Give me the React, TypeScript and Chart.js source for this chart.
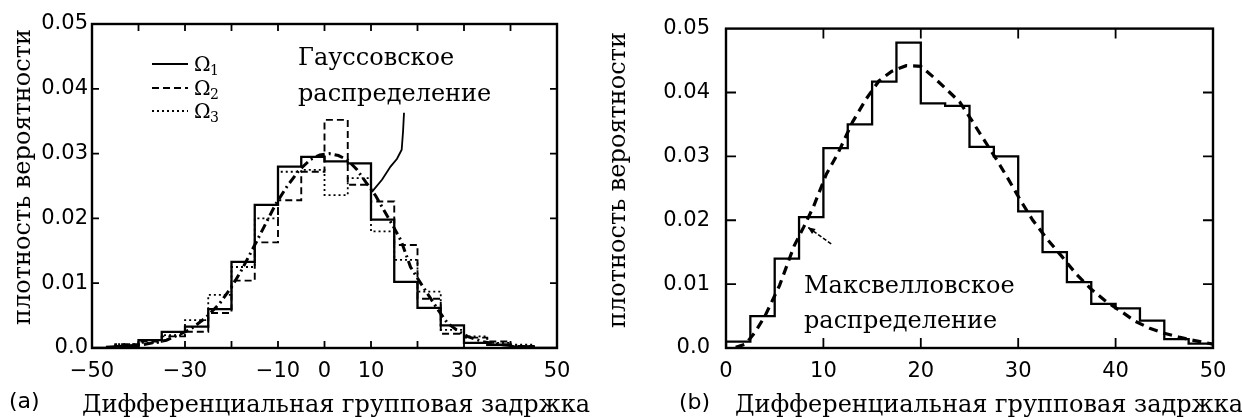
import React, { useEffect, useRef } from 'react';
import { Chart, registerables } from 'chart.js';

Chart.register(...registerables);

// ---------- Panel (a): DGD histograms for three bands, Gaussian fit ----------
const binEdgesA = [-50, -45, -40, -35, -30, -25, -20, -15, -10, -5, 0, 5, 10, 15, 20, 25, 30, 35, 40, 45, 50];
const omega1 = [0, 0.0003, 0.0012, 0.0025, 0.0033, 0.006, 0.0133, 0.0221, 0.028, 0.0295, 0.0288, 0.0285, 0.0198, 0.0102, 0.0062, 0.0035, 0.0008, 0.0005, 0.0002, 0];
const omega2 = [0, 0.0006, 0.001, 0.0018, 0.0025, 0.0054, 0.0104, 0.0163, 0.0228, 0.0272, 0.0352, 0.0252, 0.0226, 0.0159, 0.0076, 0.0022, 0.0016, 0.001, 0.0003, 0];
const omega3 = [0, 0.0006, 0.0008, 0.002, 0.0043, 0.0082, 0.0125, 0.02, 0.0272, 0.0275, 0.0236, 0.0262, 0.018, 0.0136, 0.0087, 0.0028, 0.0018, 0.0008, 0.0005, 0];
const gaussX = [-47, -43, -39, -34, -29, -25.5, -22.5, -20, -18, -15.5, -13, -10.5, -8, -5.5, -3, -1, 1, 3, 5, 7, 9, 11, 13, 15, 16.5, 18.5, 20.5, 22.5, 24.5, 26.5, 29, 31, 34, 37, 41, 45];
const gaussY = [0.0001, 0.0003, 0.0005, 0.0012, 0.0028, 0.0047, 0.0069, 0.0094, 0.0118, 0.0152, 0.0187, 0.0222, 0.025, 0.0274, 0.0291, 0.0298, 0.03, 0.0297, 0.029, 0.0275, 0.0255, 0.0235, 0.021, 0.0185, 0.0165, 0.0125, 0.0102, 0.008, 0.0058, 0.0038, 0.0025, 0.0017, 0.001, 0.0006, 0.0003, 0.0001];
const xLabelsA = [-50, -30, -10, 0, 10, 30, 50];
const legendLabels = ['Ω', 'Ω', 'Ω'];
const legendSubs = ['1', '2', '3'];
const gaussText = ['Гауссовское', 'распределение'];
// pointer from the label to the Gaussian curve (data coordinates)
const gaussPointerX = [17.1, 16.9, 16.6, 15.6, 14.2, 12.4, 10.2];
const gaussPointerY = [0.0363, 0.0335, 0.0306, 0.0292, 0.028, 0.026, 0.0241];

// ---------- Panel (b): DGD histogram, Maxwellian fit ----------
const binEdgesB = [0, 2.5, 5, 7.5, 10, 12.5, 15, 17.5, 20, 22.5, 25, 27.5, 30, 32.5, 35, 37.5, 40, 42.5, 45, 47.5, 50];
const histB = [0.001, 0.005, 0.014, 0.0205, 0.0313, 0.035, 0.0417, 0.0478, 0.0383, 0.0379, 0.0315, 0.03, 0.0214, 0.015, 0.0103, 0.0069, 0.0062, 0.0043, 0.0014, 0.0007];
const maxwellX = [1, 2, 3, 4, 5.5, 7, 8, 9, 10.3, 11.5, 13, 14.4, 15.7, 17, 18.5, 20, 21.3, 22.5, 24, 25.2, 26.4, 27.7, 29, 30.2, 31.5, 33, 34.5, 36, 37.5, 39, 40.5, 42, 43.5, 45, 46.5, 48, 50];
const maxwellY = [0.0001, 0.0006, 0.0025, 0.005, 0.0098, 0.016, 0.019, 0.0222, 0.0272, 0.0305, 0.0354, 0.039, 0.0418, 0.0433, 0.0442, 0.0441, 0.0424, 0.0407, 0.0385, 0.0357, 0.0328, 0.0297, 0.0264, 0.0232, 0.02, 0.017, 0.0143, 0.0115, 0.0092, 0.0073, 0.0058, 0.0042, 0.0031, 0.0023, 0.0017, 0.0012, 0.0006];
const xLabelsB = [0, 10, 20, 30, 40, 50];
const maxwellText = ['Максвелловское', 'распределение'];
const maxwellArrowX = [10.8, 8.4];
const maxwellArrowY = [0.0163, 0.0189];

const yLabelText = 'плотность вероятности';
const xTitleText = 'Дифференциальная групповая задржка';

const SERIF = '"DejaVu Serif", serif';
const SANS = '"DejaVu Sans", sans-serif';

function histPoints(edges: number[], vals: number[]) {
  const pts = [{ x: edges[0], y: 0 }];
  vals.forEach((v, i) => pts.push({ x: edges[i], y: v }));
  pts.push({ x: edges[edges.length - 1], y: 0 });
  return pts;
}
function curvePoints(xs: number[], ys: number[]) {
  return xs.map((x, i) => ({ x, y: ys[i] }));
}
function fmtX(v: number) {
  return v < 0 ? '−' + Math.abs(v) : String(v);
}
function fmtY(v: number) {
  return Math.abs(v) < 1e-9 ? '0.0' : v.toFixed(2);
}

function framePlugin(tickLen: number) {
  return {
    id: 'frameTicks',
    afterDatasetsDraw(chart: any) {
      const { ctx, chartArea } = chart;
      const { left, right, top, bottom } = chartArea;
      const xs = chart.scales.x;
      const ys = chart.scales.y;
      ctx.save();
      ctx.strokeStyle = '#000';
      ctx.lineWidth = 2.4;
      ctx.setLineDash([]);
      ctx.strokeRect(left, top, right - left, bottom - top);
      ctx.lineWidth = 1.8;
      ctx.beginPath();
      xs.ticks.forEach((t: any) => {
        const p = xs.getPixelForValue(t.value);
        if (p <= left + 1 || p >= right - 1) return;
        ctx.moveTo(p, bottom);
        ctx.lineTo(p, bottom - tickLen);
        ctx.moveTo(p, top);
        ctx.lineTo(p, top + tickLen);
      });
      ys.ticks.forEach((t: any) => {
        const p = ys.getPixelForValue(t.value);
        if (p <= top + 1 || p >= bottom - 1) return;
        ctx.moveTo(left, p);
        ctx.lineTo(left + tickLen, p);
        ctx.moveTo(right, p);
        ctx.lineTo(right - tickLen, p);
      });
      ctx.stroke();
      ctx.restore();
    },
  };
}

function baseOptions(opts: {
  xmin: number; xmax: number; labels: number[]; yWidth: number; yPad: number;
  padTop: number; padRight: number;
}) {
  return {
    animation: false as const,
    responsive: false,
    events: [],
    layout: { padding: { left: 0, top: opts.padTop, right: opts.padRight, bottom: 0 } },
    plugins: { legend: { display: false }, tooltip: { enabled: false }, title: { display: false } },
    elements: { point: { radius: 0 }, line: { tension: 0 } },
    scales: {
      x: {
        type: 'linear' as const,
        min: opts.xmin,
        max: opts.xmax,
        grid: { display: false, drawTicks: false },
        border: { display: false },
        afterFit: (s: any) => { s.height = 70; },
        ticks: {
          stepSize: 10,
          autoSkip: false,
          maxRotation: 0,
          padding: 11,
          color: '#000',
          font: { family: SANS, size: 21 },
          callback: (v: any) => (opts.labels.includes(Number(v)) ? fmtX(Number(v)) : ''),
        },
      },
      y: {
        type: 'linear' as const,
        min: 0,
        max: 0.05,
        grid: { display: false, drawTicks: false },
        border: { display: false },
        afterFit: (s: any) => { s.width = opts.yWidth; },
        ticks: {
          stepSize: 0.01,
          padding: opts.yPad,
          color: '#000',
          font: { family: SANS, size: 21 },
          callback: (v: any) => fmtY(Number(v)),
        },
      },
    },
  };
}

function text(ctx: any, s: string, x: number, y: number, font: string, align = 'left') {
  ctx.font = font;
  ctx.textAlign = align;
  ctx.textBaseline = 'alphabetic';
  ctx.fillStyle = '#000';
  ctx.fillText(s, x, y);
}

const annotationsA = {
  id: 'annotA',
  afterDraw(chart: any) {
    const { ctx } = chart;
    const xs = chart.scales.x;
    const ys = chart.scales.y;
    ctx.save();
    // y title
    ctx.save();
    ctx.translate(22, 177);
    ctx.rotate(-Math.PI / 2);
    text(ctx, yLabelText, 0, 8, `24px ${SERIF}`, 'center');
    ctx.restore();
    // x title and panel tag
    text(ctx, xTitleText, 82, 412, `24px ${SERIF}`);
    text(ctx, '(a)', 9, 408, `22px ${SANS}`);
    // legend
    const styles = [[], [7, 4], [2, 3]];
    const ly = [64, 88, 111];
    ly.forEach((yy, i) => {
      ctx.beginPath();
      ctx.setLineDash(styles[i]);
      ctx.lineWidth = i === 0 ? 2.2 : 1.8;
      ctx.strokeStyle = '#000';
      ctx.moveTo(152, yy);
      ctx.lineTo(188, yy);
      ctx.stroke();
      ctx.setLineDash([]);
      text(ctx, legendLabels[i], 194, yy + 7, `20px ${SERIF}`);
      text(ctx, legendSubs[i], 210, yy + 11, `14px ${SERIF}`);
    });
    // Gaussian label
    text(ctx, gaussText[0], 298, 65, `24px ${SERIF}`);
    text(ctx, gaussText[1], 298, 101, `24px ${SERIF}`);
    ctx.beginPath();
    ctx.setLineDash([]);
    ctx.lineWidth = 1.8;
    gaussPointerX.forEach((gx, i) => {
      const px = xs.getPixelForValue(gx);
      const py = ys.getPixelForValue(gaussPointerY[i]);
      if (i === 0) ctx.moveTo(px, py); else ctx.lineTo(px, py);
    });
    ctx.stroke();
    ctx.restore();
  },
};

const annotationsB = {
  id: 'annotB',
  afterDraw(chart: any) {
    const { ctx } = chart;
    const xs = chart.scales.x;
    const ys = chart.scales.y;
    const ox = 590;
    ctx.save();
    ctx.save();
    ctx.translate(617 - ox, 180);
    ctx.rotate(-Math.PI / 2);
    text(ctx, yLabelText, 0, 8, `24px ${SERIF}`, 'center');
    ctx.restore();
    text(ctx, xTitleText, 735 - ox, 412, `24px ${SERIF}`);
    text(ctx, '(b)', 679 - ox, 409, `22px ${SANS}`);
    text(ctx, maxwellText[0], 804 - ox, 293, `24px ${SERIF}`);
    text(ctx, maxwellText[1], 804 - ox, 328, `24px ${SERIF}`);
    // arrow
    const x0 = xs.getPixelForValue(maxwellArrowX[0]);
    const y0 = ys.getPixelForValue(maxwellArrowY[0]);
    const x1 = xs.getPixelForValue(maxwellArrowX[1]);
    const y1 = ys.getPixelForValue(maxwellArrowY[1]);
    ctx.strokeStyle = '#000';
    ctx.fillStyle = '#000';
    ctx.lineWidth = 1.6;
    ctx.setLineDash([4, 2]);
    ctx.beginPath();
    ctx.moveTo(x0, y0);
    ctx.lineTo(x1, y1);
    ctx.stroke();
    ctx.setLineDash([]);
    const ang = Math.atan2(y1 - y0, x1 - x0);
    const hl = 8;
    ctx.beginPath();
    ctx.moveTo(x1, y1);
    ctx.lineTo(x1 - hl * Math.cos(ang - 0.4), y1 - hl * Math.sin(ang - 0.4));
    ctx.lineTo(x1 - hl * Math.cos(ang + 0.4), y1 - hl * Math.sin(ang + 0.4));
    ctx.closePath();
    ctx.fill();
    ctx.restore();
  },
};

export default function App() {
  const refA = useRef<HTMLCanvasElement>(null);
  const refB = useRef<HTMLCanvasElement>(null);

  useEffect(() => {
    const chartA = new Chart(refA.current as HTMLCanvasElement, {
      type: 'line',
      data: {
        datasets: [
          { data: histPoints(binEdgesA, omega3), borderColor: '#000', borderWidth: 1.8, borderDash: [2, 3], stepped: true, fill: false },
          { data: histPoints(binEdgesA, omega2), borderColor: '#000', borderWidth: 1.9, borderDash: [7, 4], stepped: true, fill: false },
          { data: histPoints(binEdgesA, omega1), borderColor: '#000', borderWidth: 2.3, stepped: true, fill: false },
          { data: curvePoints(gaussX, gaussY), borderColor: '#000', borderWidth: 3, borderDash: [9, 4, 2, 4], fill: false },
        ],
      },
      options: baseOptions({ xmin: -50, xmax: 50, labels: xLabelsA, yWidth: 92, yPad: 4, padTop: 24, padRight: 33 }) as any,
      plugins: [framePlugin(7), annotationsA],
    });
    const chartB = new Chart(refB.current as HTMLCanvasElement, {
      type: 'line',
      data: {
        datasets: [
          { data: histPoints(binEdgesB, histB), borderColor: '#000', borderWidth: 2.3, stepped: true, fill: false },
          { data: curvePoints(maxwellX, maxwellY), borderColor: '#000', borderWidth: 3.2, borderDash: [9, 6], fill: false },
        ],
      },
      options: baseOptions({ xmin: 0, xmax: 50, labels: xLabelsB, yWidth: 136, yPad: 16, padTop: 26, padRight: 29 }) as any,
      plugins: [framePlugin(10), annotationsB],
    });
    return () => {
      chartA.destroy();
      chartB.destroy();
    };
  }, []);

  return (
    <div style={{ position: 'fixed', left: 0, top: 0, width: 1242, height: 418, background: '#fff' }}>
      <canvas ref={refA} width={590} height={418} style={{ position: 'absolute', left: 0, top: 0, width: 590, height: 418 }} />
      <canvas ref={refB} width={652} height={418} style={{ position: 'absolute', left: 590, top: 0, width: 652, height: 418 }} />
    </div>
  );
}
